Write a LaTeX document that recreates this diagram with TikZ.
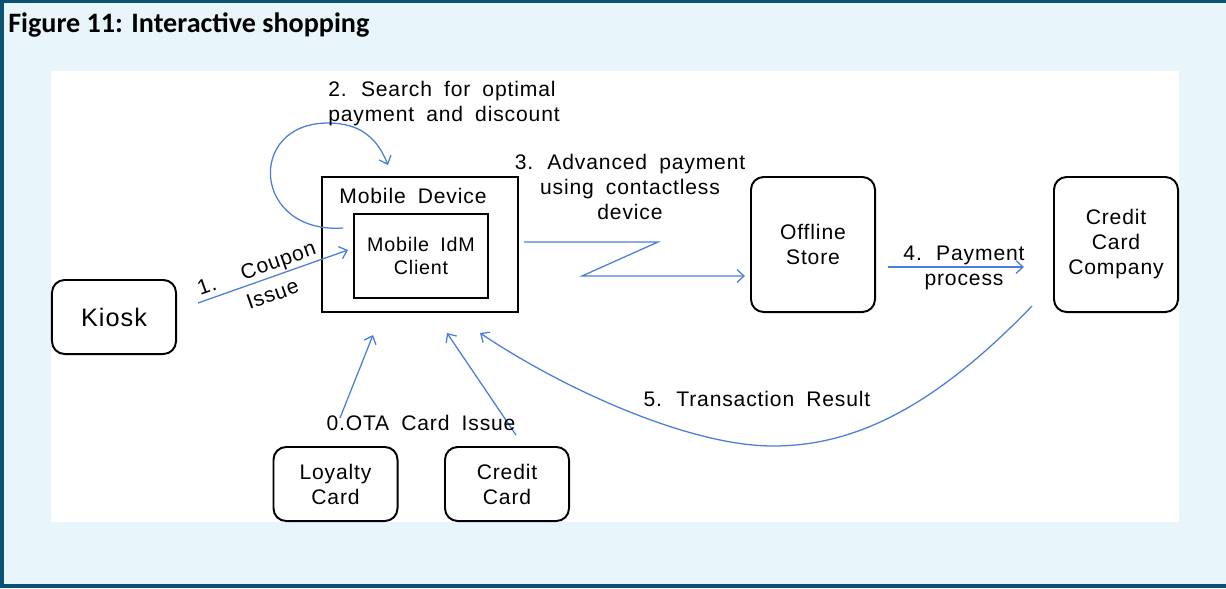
\documentclass[tikz,border=0pt]{standalone}
\usepackage{fontspec}
\setmainfont{Liberation Sans}[LetterSpace=4,WordSpace=1.8]
\newfontfamily\titlefont{Carlito}
\usetikzlibrary{arrows.meta}

\definecolor{framecol}{HTML}{0B5272}
\definecolor{paleblue}{HTML}{E8F6FC}
\definecolor{arrowblue}{HTML}{4A7ED9}

\begin{document}
\begin{tikzpicture}[x=0.025cm,y=-0.025cm,
    box/.style={draw,line width=1.4pt,rounded corners=9pt,minimum width=3.1cm,minimum height=1.85cm,align=center,font=\fontsize{15}{17.8}\selectfont},
    flow/.style={draw=arrowblue,line width=0.9pt,-{Straight Barb[length=5pt,width=9pt]}},
    lbl/.style={font=\fontsize{15}{17.8}\selectfont,align=center,inner sep=0pt}]
    % frame and white sheet
    \fill[framecol] (0,0) rectangle (1226,588);
    \fill[paleblue] (4,3) rectangle (1226,584);
    \fill[white] (51,71) rectangle (1179,522);
    \useasboundingbox (0,0) rectangle (1226,588);

    \node[anchor=base west,inner sep=0pt,font=\titlefont\bfseries\fontsize{20}{24}\selectfont] (title) at (8,32) {Figure 11: Interactive shopping};

    % boxes
    \node[box,font=\fontsize{18}{20}\selectfont] (kiosk) at (114,317) {Kiosk};
    \node[draw,line width=1.6pt,minimum width=4.9cm,minimum height=3.375cm] (device) at (420,244.5) {};
    \node[lbl] (devicelbl) at (413,196) {Mobile Device};
    \node[draw,line width=1.6pt,minimum width=3.35cm,minimum height=2.1cm,align=center,font=\fontsize{14}{17}\selectfont] (client) at (421,256) {Mobile IdM\\Client};
    \node[box,minimum height=3.375cm] (store) at (813,244.5) {Offline\\Store};
    \node[box,minimum height=3.375cm] (company) at (1116,244.5) {Credit\\Card\\Company};
    \node[box] (loyalty) at (335.5,484) {Loyalty\\Card};
    \node[box] (credit) at (507,484) {Credit\\Card};

    % arrow ends
    \coordinate (c1a) at (198,303);
    \coordinate (c1b) at (348,250);
    \coordinate (c2a) at (343,228);
    \coordinate (c2top) at (328,123);
    \coordinate (c2b) at (388,165);
    \coordinate (c3a) at (524,242);
    \coordinate (c3b) at (658,242);
    \coordinate (c3c) at (582,276);
    \coordinate (c3d) at (745,276);
    \coordinate (c4a) at (888,267);
    \coordinate (c4b) at (1024,267);
    \coordinate (c5a) at (1032,306);
    \coordinate (c5low) at (773,446);
    \coordinate (c5b) at (480,333);
    \coordinate (c0a) at (340,418);
    \coordinate (c0b) at (373,335);
    \coordinate (c0c) at (516,435);
    \coordinate (c0d) at (447,333);

    % 1
    \draw[flow] (c1a) -- (c1b)
        node[pos=.42,sloped,above=1pt,lbl] (lbl1) {1.\hspace{1.3em}Coupon}
        node[pos=.46,sloped,below=6pt,lbl] (lbl1b) {Issue};
    % 2
    \draw[flow] (c2a) .. controls (252,234) and (246,123) .. (c2top) .. controls (362,123) and (378,140) .. (c2b);
    \node[lbl,align=left] (lbl2) at (444,104) {2. Search for optimal\\payment and discount};
    % 3
    \draw[flow] (c3a) -- (c3b) -- (c3c) -- (c3d);
    \node[lbl] (lbl3) at (630,187) {3. Advanced payment\\using contactless\\device};
    % 4
    \draw[flow] (c4a) -- (c4b);
    \node[lbl] (lbl4) at (964,268) {4. Payment\\process};
    % 5
    \draw[flow] (c5a) .. controls (930,412) and (850,446) .. (c5low) .. controls (690,446) and (565,390) .. (c5b);
    \node[lbl] (lbl5) at (757,399) {5. Transaction Result};
    % 0
    \draw[flow] (c0a) -- (c0b);
    \draw[flow] (c0c) -- (c0d);
    \node[lbl] (lbl0) at (421,423) {0.OTA Card Issue};
\end{tikzpicture}
\end{document}
